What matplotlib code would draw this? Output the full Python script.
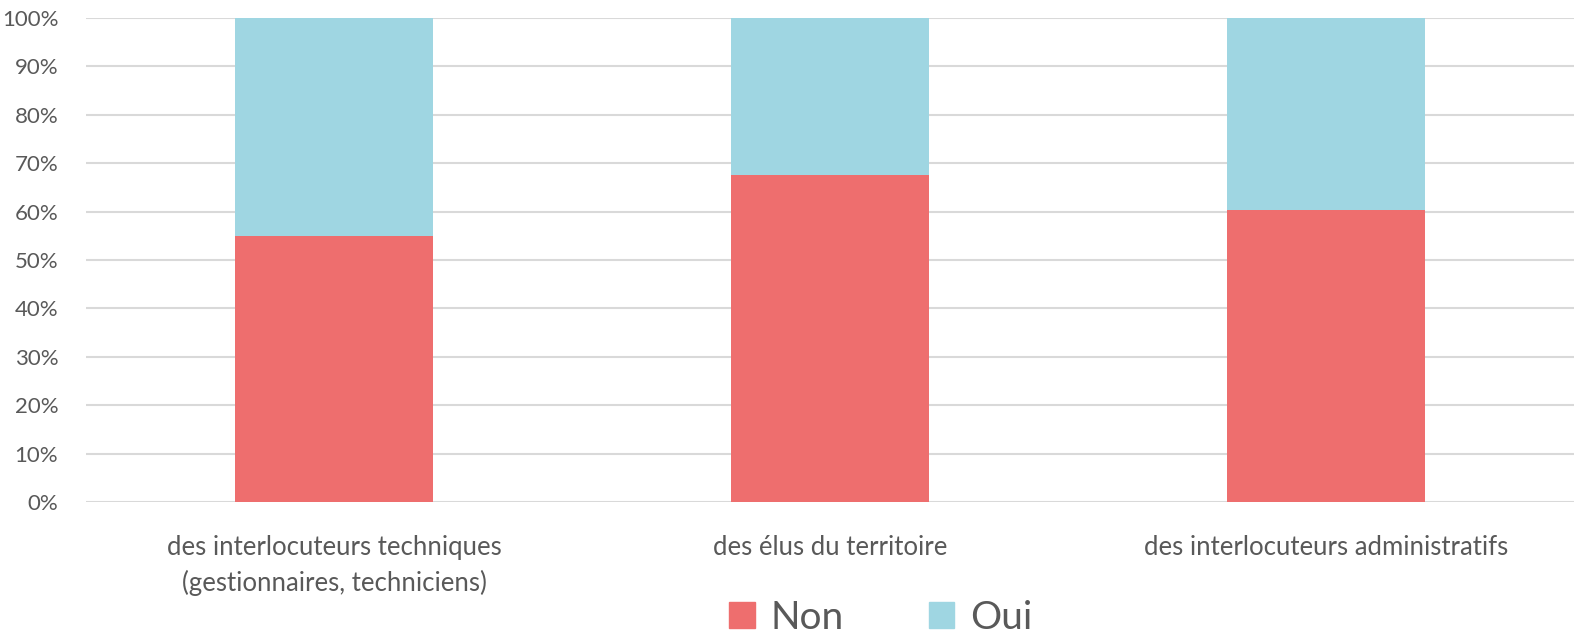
import numpy as np
import matplotlib.pyplot as plt
from matplotlib.patches import Patch

categories = ["des interlocuteurs techniques\n(gestionnaires, techniciens)",
              "des élus du territoire",
              "des interlocuteurs administratifs"]
non = np.array([55.0, 67.5, 60.3])
oui = 100 - non

plt.rcParams['font.family'] = ['Lato', 'DejaVu Sans']
txt = '#595959'
red = '#EE6E6E'
blue = '#9FD6E2'

fig = plt.figure(figsize=(15.81, 6.33), dpi=100)
ax = fig.add_axes([86 / 1581, 1 - 502 / 633, 1488 / 1581, 484 / 633])

x = np.arange(len(categories))
ax.bar(x, non, width=0.4, color=red, zorder=3)
ax.bar(x, oui, bottom=non, width=0.4, color=blue, zorder=3)

ax.set_xlim(-0.5, len(categories) - 0.5)
ax.set_ylim(0, 100)
ax.set_yticks(np.arange(0, 101, 10))
ax.set_yticklabels([f"{v}%" for v in range(0, 101, 10)], color=txt, fontsize=16)
ax.set_xticks(x)
ax.set_xticklabels(categories, color=txt, fontsize=18.5, linespacing=1.45)
ax.tick_params(length=0, axis='y', pad=20)
ax.tick_params(length=0, axis='x', pad=24)
ax.yaxis.grid(True, color='#d9d9d9', linewidth=1.5, zorder=0)
for s in ax.spines.values():
    s.set_visible(False)

handles = [Patch(color=red, label='Non'), Patch(color=blue, label='Oui')]
fig.legend(handles=handles, loc='lower center', bbox_to_anchor=(0.557, -0.06), ncol=2,
           frameon=False, fontsize=28, labelcolor=txt, handlelength=0.65,
           handleheight=0.65, handletextpad=0.4, columnspacing=2.2)

fig.savefig('out.png', dpi=100)
